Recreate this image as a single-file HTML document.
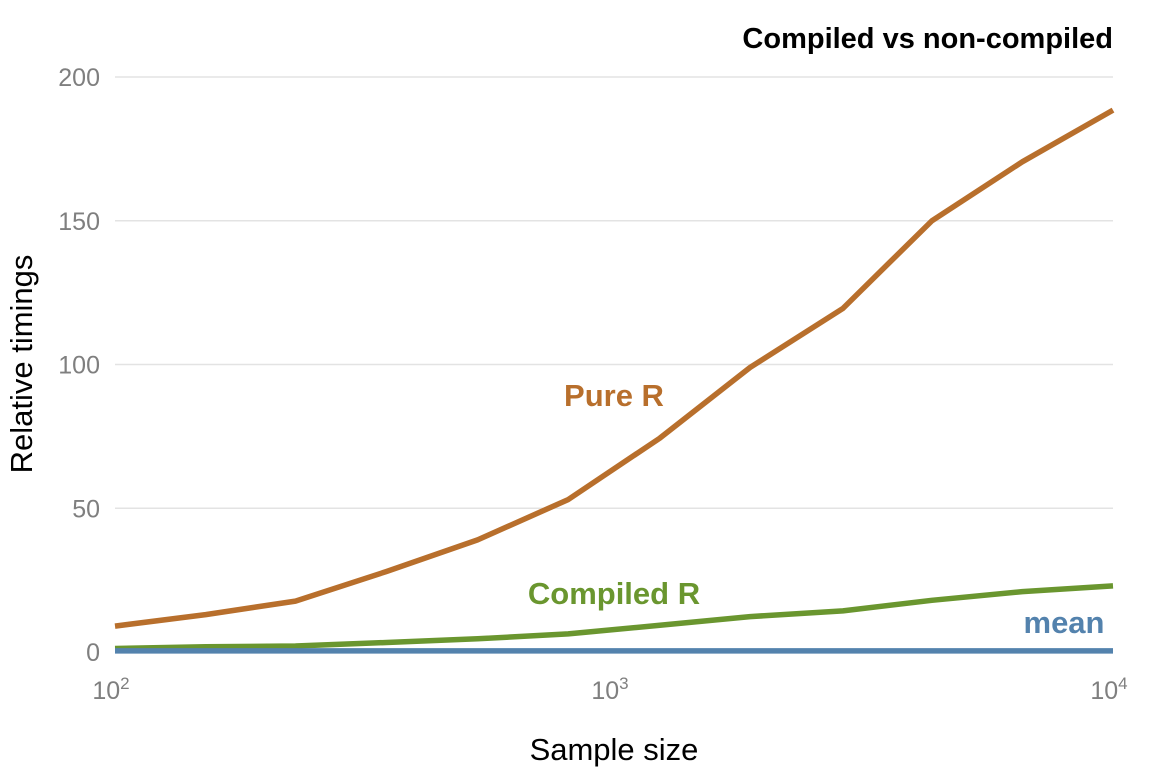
<!DOCTYPE html>
<html><head><meta charset="utf-8"><style>
html,body{margin:0;padding:0;background:#fff;}
svg{display:block;font-family:"Liberation Sans",sans-serif;}
</style></head><body>
<svg id="chart" width="1152" height="768">
<text x="1113" y="48" text-anchor="end" font-size="29" font-weight="bold" fill="#000">Compiled vs non-compiled</text>
<g id="grid"></g><g id="series"></g><g id="axes"></g>
<text x="614" y="760" text-anchor="middle" font-size="31" fill="#000">Sample size</text>
<text transform="translate(32,364) rotate(-90)" text-anchor="middle" font-size="31" fill="#000">Relative timings</text>
</svg>
<script>
const sampleSizes=[100,152,230,350,533,809,1236,1874,2876,4335,6579,10000];
const pureR=[9,13,17.7,28,39,53,74.4,99,119.5,150,170.5,188.5];
const compiledR=[1.2,1.8,2.1,3.3,4.6,6.3,9.3,12.3,14.3,18,21,23];
const meanVals=[0.4,0.4,0.4,0.4,0.4,0.4,0.4,0.4,0.4,0.4,0.4,0.4];
const yTicks=[0,50,100,150,200];
const xTicks=[2,3,4];
const NS='http://www.w3.org/2000/svg';
const xs=v=>115+(Math.log10(v)-2)/2*998;
const ys=v=>652-v*2.875;
function mk(t,a,p){const e=document.createElementNS(NS,t);for(const k in a)e.setAttribute(k,a[k]);p.appendChild(e);return e;}
const grid=document.getElementById('grid'),axes=document.getElementById('axes'),ser=document.getElementById('series');
yTicks.forEach(v=>{
 const l=mk('line',{x1:115,x2:1113,y1:ys(v),y2:ys(v),stroke:'#e3e3e3','stroke-width':1.5},grid);
 
 
 const t=mk('text',{x:100,y:ys(v)+9,'text-anchor':'end','font-size':25,fill:'#7f7f7f'},axes);
 t.textContent=v;
 
 
});
xTicks.forEach(p=>{
 const t=mk('text',{x:xs(Math.pow(10,p))-4,y:699,'text-anchor':'middle','font-size':25,fill:'#7f7f7f'},axes);
 t.textContent='10';
 const s=mk('tspan',{dy:-10,'font-size':17},t);s.textContent=p;
 
 
});
function line(vals,col,name){
 const pts=vals.map((v,i)=>xs(sampleSizes[i]).toFixed(1)+','+ys(v).toFixed(1)).join(' ');
 const p=mk('polyline',{points:pts,fill:'none',stroke:col,'stroke-width':5.5,'stroke-linejoin':'round'},ser);
 
 
}
line(pureR,'#b86f2c','line-pure-r');
line(compiledR,'#6a962f','line-compiled-r');
line(meanVals,'#5382ad','line-mean');
function lab(x,y,txt,col,name){
 const t=mk('text',{x:x,y:y,'text-anchor':'middle','font-size':31,'font-weight':'bold',fill:col},ser);
 t.textContent=txt;
 
 
}
lab(614,406,'Pure R','#b86f2c','label-pure-r');
lab(614,604,'Compiled R','#6a962f','label-compiled-r');
lab(1064,633,'mean','#5382ad','label-mean');
</script>
</body></html>
